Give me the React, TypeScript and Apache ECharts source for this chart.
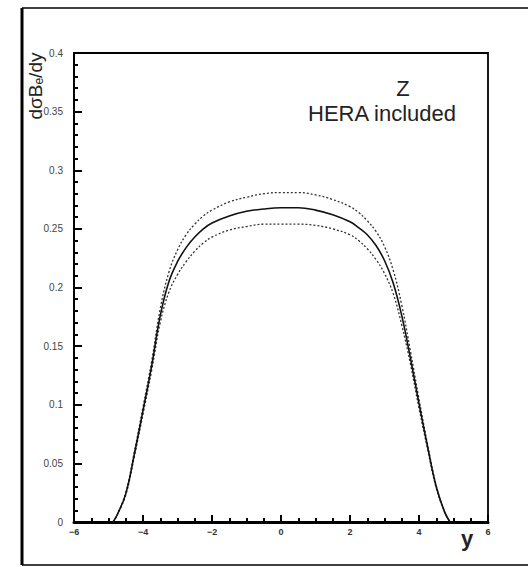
import React, { useEffect, useRef } from "react";
import * as echarts from "echarts";

// rapidity grid shared by the three curves
const rapidity = [
  -4.87, -4.75, -4.5, -4.25, -4, -3.75, -3.5, -3.25, -3, -2.75, -2.5, -2.25, -2,
  -1.5, -1, -0.5, 0, 0.5, 1, 1.5, 2, 2.25, 2.5, 2.75, 3, 3.25, 3.5, 3.75, 4,
  4.25, 4.5, 4.75, 4.9,
];

// central prediction of dσB_e/dy
const central = [
  0, 0.006, 0.024, 0.058, 0.095, 0.133, 0.176, 0.205, 0.222, 0.234, 0.243, 0.25,
  0.255, 0.261, 0.265, 0.267, 0.268, 0.268, 0.266, 0.262, 0.256, 0.251, 0.245,
  0.236, 0.223, 0.204, 0.176, 0.14, 0.101, 0.064, 0.03, 0.008, 0,
];

// upper edge of the uncertainty band
const upper = [
  0, 0.006, 0.025, 0.06, 0.098, 0.137, 0.182, 0.213, 0.232, 0.245, 0.254, 0.261,
  0.266, 0.273, 0.277, 0.28, 0.281, 0.281, 0.279, 0.275, 0.269, 0.264, 0.257,
  0.248, 0.235, 0.215, 0.185, 0.146, 0.105, 0.066, 0.031, 0.008, 0,
];

// lower edge of the uncertainty band
const lower = [
  0, 0.006, 0.023, 0.056, 0.092, 0.129, 0.17, 0.196, 0.211, 0.222, 0.231, 0.238,
  0.243, 0.249, 0.252, 0.254, 0.254, 0.254, 0.253, 0.25, 0.245, 0.24, 0.233,
  0.224, 0.212, 0.195, 0.168, 0.135, 0.097, 0.062, 0.029, 0.008, 0,
];

const pairs = (ys: number[]) => rapidity.map((x, i) => [x, ys[i]]);

export default function App() {
  const ref = useRef<HTMLDivElement>(null);

  useEffect(() => {
    if (!ref.current) return;
    const chart = echarts.init(ref.current, null, { renderer: "svg" });
    const labelFont = "Liberation Sans";

    chart.setOption({
      animation: false,
      backgroundColor: "#ffffff",
      grid: {
        left: 74,
        top: 53,
        right: 40,
        bottom: 45,
        show: true,
        borderColor: "#000",
        borderWidth: 1.8,
      },
      xAxis: {
        type: "value",
        min: -6,
        max: 6,
        interval: 2,
        axisLine: { show: true, onZero: false, lineStyle: { color: "#000", width: 3 } },
        axisTick: { show: true, inside: true, length: 7, lineStyle: { color: "#000", width: 2 } },
        minorTick: { show: true, splitNumber: 4, length: 4, lineStyle: { color: "#000", width: 2 } },
        splitLine: { show: false },
        axisLabel: {
          color: "#333",
          fontSize: 9,
          fontFamily: labelFont,
          fontWeight: "bold",
          margin: 5,
          formatter: (v: number) => String(v).replace("-", "\u2212"),
        },
      },
      yAxis: {
        type: "value",
        min: 0,
        max: 0.4,
        interval: 0.05,
        axisLine: { show: true, onZero: false, lineStyle: { color: "#000", width: 2 } },
        axisTick: { show: true, inside: true, length: 8, lineStyle: { color: "#000", width: 2 } },
        minorTick: { show: true, splitNumber: 5, length: 4, lineStyle: { color: "#000", width: 2 } },
        splitLine: { show: false },
        axisLabel: {
          color: "#444",
          fontSize: 10,
          fontFamily: labelFont,
          margin: 11,
          formatter: (v: number) => (v === 0 ? "0" : String(Math.round(v * 100) / 100)),
        },
      },
      series: [
        {
          type: "line",
          data: pairs(upper),
          showSymbol: false,
          smooth: 0.4,
          lineStyle: { color: "#333", width: 1.3, type: [2, 2] },
        },
        {
          type: "line",
          data: pairs(lower),
          showSymbol: false,
          smooth: 0.4,
          lineStyle: { color: "#333", width: 1.3, type: [2, 2] },
        },
        {
          type: "line",
          data: pairs(central),
          showSymbol: false,
          smooth: 0.4,
          lineStyle: { color: "#111", width: 1.6 },
        },
      ],
      graphic: [
        // outer frame
        { type: "line", shape: { x1: 22, y1: 8, x2: 22, y2: 565 }, style: { stroke: "#000", lineWidth: 3 } },
        { type: "line", shape: { x1: 22, y1: 8, x2: 528, y2: 8 }, style: { stroke: "#000", lineWidth: 1.5 } },
        { type: "line", shape: { x1: 22, y1: 565, x2: 528, y2: 565 }, style: { stroke: "#000", lineWidth: 1.5 } },
        {
          type: "text",
          x: 35,
          y: 86,
          rotation: Math.PI / 2,
          style: {
            text: "dσB{e|e}/dy",
            fontSize: 19,
            fontFamily: labelFont,
            fill: "#222",
            align: "center",
            verticalAlign: "middle",
            rich: { e: { fontSize: 12, fontFamily: labelFont, fill: "#222", padding: [8, 0, 0, 0] } },
          },
        },
        {
          type: "text",
          x: 403,
          y: 88,
          style: {
            text: "Z",
            fontSize: 22,
            fontFamily: labelFont,
            fill: "#222",
            align: "center",
            verticalAlign: "middle",
          },
        },
        {
          type: "text",
          x: 382,
          y: 113,
          style: {
            text: "HERA included",
            fontSize: 22,
            fontFamily: labelFont,
            fill: "#222",
            align: "center",
            verticalAlign: "middle",
          },
        },
        {
          type: "text",
          x: 467,
          y: 538,
          style: {
            text: "y",
            fontSize: 22,
            fontWeight: "bold",
            fontFamily: labelFont,
            fill: "#222",
            align: "center",
            verticalAlign: "middle",
          },
        },
      ],
    });

    return () => chart.dispose();
  }, []);

  return (
    <div
      ref={ref}
      style={{ position: "absolute", left: 0, top: 0, width: 528, height: 567 }}
    />
  );
}
